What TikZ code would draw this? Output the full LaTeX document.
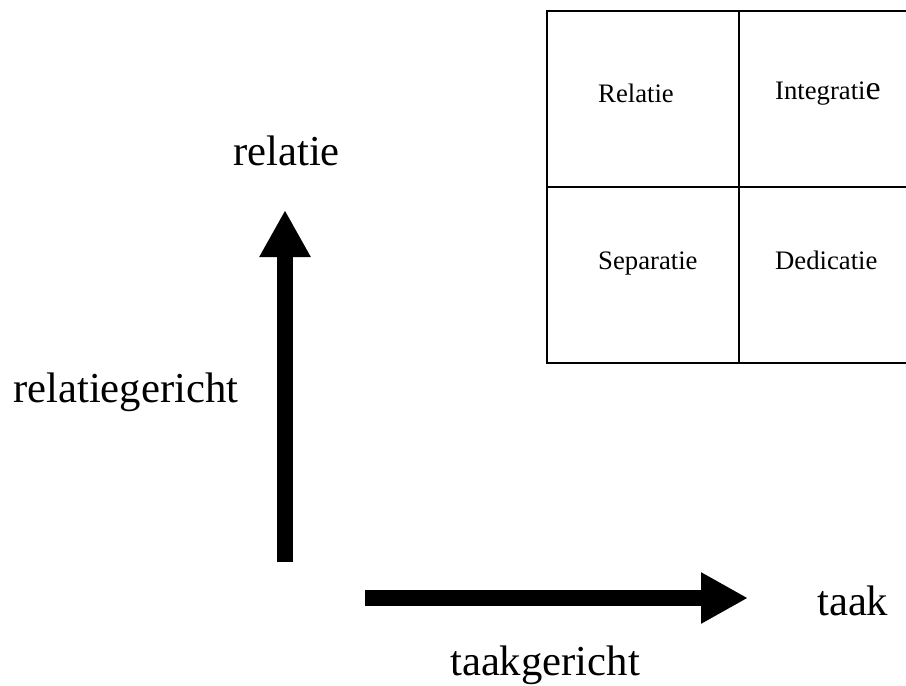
\documentclass[tikz,border=0pt]{standalone}
\usepackage{fontspec}
\setmainfont{Liberation Serif}
\usetikzlibrary{arrows.meta}
\begin{document}
\begin{tikzpicture}[x=1pt,y=-1pt,
  biglabel/.style={font=\fontsize{42.7}{48}\selectfont, inner sep=0pt, anchor=base west},
  celllabel/.style={font=\fontsize{26.7}{30}\selectfont, inner sep=0pt, anchor=base west},
  gridline/.style={line width=1.6pt, line cap=rect},
  bigarrow/.style={line width=16pt, -{Triangle[length=47pt,width=48pt]}}]
  \useasboundingbox (0,0) rectangle (906,686);
  \clip (0,0) rectangle (906,686);
  % quadrant grid
  \draw[gridline] (547,11) rectangle (910,363);
  \draw[gridline] (739,11) -- (739,363);
  \draw[gridline] (547,187) -- (910,187);
  \node[celllabel] (rel) at (598,102) {Relatie};
  \node[celllabel] (int) at (775,99) {Integrati{\fontsize{34}{38}\selectfont e}};
  \node[celllabel] (sep) at (598,269) {Separatie};
  \node[celllabel] (ded) at (775,269) {Dedicatie};
  % axes
  \coordinate (vstart) at (285,562);
  \coordinate (vend) at (285,210);
  \coordinate (hstart) at (365,598);
  \coordinate (hend) at (748,598);
  \draw[bigarrow] (vstart) -- (vend);
  \draw[bigarrow] (hstart) -- (hend);
  % axis labels
  \node[biglabel] (ytop) at (233,165) {relatie};
  \node[biglabel] (yname) at (13,402) {relatiegericht};
  \node[biglabel] (xtop) at (817,615) {taak};
  \node[biglabel] (xname) at (450,675) {taakgericht};
\end{tikzpicture}
\end{document}
